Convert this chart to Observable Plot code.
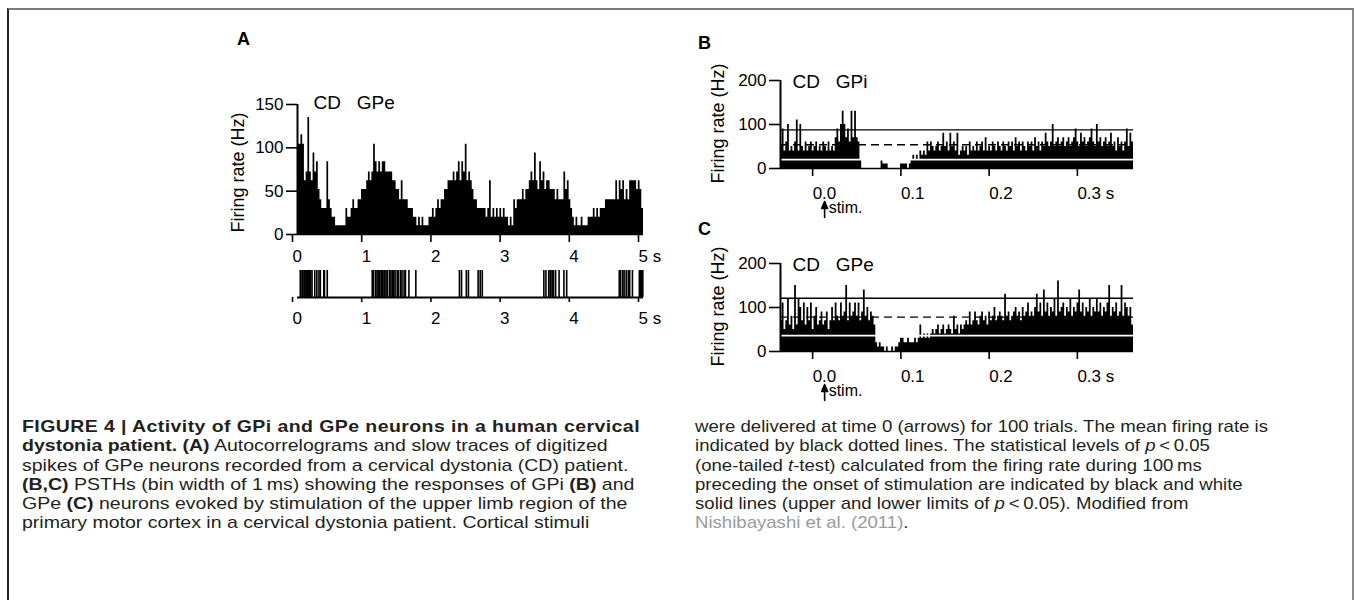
<!DOCTYPE html>
<html><head><meta charset="utf-8">
<script src="https://cdn.jsdelivr.net/npm/d3@7"></script>
<script src="https://cdn.jsdelivr.net/npm/@observablehq/plot@0.6"></script>
<style>
body{margin:0;background:#fff;}
#fig{position:relative;width:1354px;height:600px;overflow:hidden;background:#fff;font-family:"Liberation Sans",Arial,sans-serif;color:#000;}
#frame{position:absolute;left:7px;top:8px;width:1343px;height:700px;border-top:2px solid #7a7a7a;border-left:2px solid #222;border-right:2px solid #8a8a8a;}
.lbl{position:absolute;font-weight:bold;font-size:18px;line-height:18px;}
.cap{position:absolute;font-family:"Liberation Sans",Arial,sans-serif;font-size:17px;line-height:19.3px;color:#231f20;white-space:nowrap;transform-origin:0 0;}
.cap b{font-weight:bold;}
.link{color:#9a9a9a;}
</style></head>
<body><div id="fig"><div id="frame"></div>
<div class="lbl" style="left:237px;top:30px;">A</div>
<div class="lbl" style="left:698px;top:34px;">B</div>
<div class="lbl" style="left:698px;top:220px;">C</div>
<div class="cap" id="capL" style="left:22px;top:417px;">
<span class="ln"><b>FIGURE 4 | Activity of GPi and GPe neurons in a human cervical</b></span><br>
<span class="ln"><b>dystonia patient. (A)</b> Autocorrelograms and slow traces of digitized</span><br>
<span class="ln">spikes of GPe neurons recorded from a cervical dystonia (CD) patient.</span><br>
<span class="ln"><b>(B,C)</b> PSTHs (bin width of 1&#8201;ms) showing the responses of GPi <b>(B)</b> and</span><br>
<span class="ln">GPe <b>(C)</b> neurons evoked by stimulation of the upper limb region of the</span><br>
<span class="ln">primary motor cortex in a cervical dystonia patient. Cortical stimuli</span>
</div>
<div class="cap" id="capR" style="left:695px;top:417px;">
<span class="ln">were delivered at time 0 (arrows) for 100 trials. The mean firing rate is</span><br>
<span class="ln">indicated by black dotted lines. The statistical levels of <i>p</i>&#8201;&lt;&#8201;0.05</span><br>
<span class="ln">(one-tailed <i>t</i>-test) calculated from the firing rate during 100&#8201;ms</span><br>
<span class="ln">preceding the onset of stimulation are indicated by black and white</span><br>
<span class="ln">solid lines (upper and lower limits of <i>p</i>&#8201;&lt;&#8201;0.05). Modified from</span><br>
<span class="ln"><span class="link">Nishibayashi et al. (2011)</span>.</span>
</div>
</div>
<script>
// ---------- DATA ----------
// Panel A: firing rate histogram (Hz), bins of 0.025 s from 0 to 5 s
const binA = 0.025;
const rateA = [
104,104,115,104,62,72,135,72,62,94,
72,84,52,40,30,30,30,84,40,30,
20,20,10,10,10,10,10,10,30,20,
20,30,40,30,30,40,40,52,52,52,
62,72,62,72,104,84,72,84,72,84,
84,72,72,72,72,62,62,52,52,40,
62,40,40,40,30,30,30,20,20,10,
20,10,20,10,10,10,20,20,30,20,
30,40,30,40,40,52,52,62,62,62,
72,62,72,84,62,84,72,104,62,72,
62,52,40,40,30,30,30,30,30,20,
30,62,20,30,20,30,20,30,20,30,
20,20,10,20,10,40,30,40,40,40,
52,40,52,52,62,72,62,94,62,52,
84,62,72,52,62,62,52,52,52,40,
52,40,40,40,72,52,62,40,30,20,
10,20,10,10,20,10,10,10,20,20,
20,30,20,30,20,30,30,30,40,40,
40,40,40,40,62,40,62,52,62,40,
52,40,62,62,62,62,52,62,52,30
];
// Panel A: digitized spike times (s)
const spikesA = [
0.04,0.05,0.07,0.08,0.10,0.11,0.13,0.14,0.16,0.17,0.19,0.21,0.25,0.28,0.31,0.33,0.38,0.39,0.43,
1.08,1.10,1.13,1.15,1.17,1.19,1.21,1.23,1.25,1.26,1.28,1.30,1.33,1.35,1.37,1.39,1.41,1.44,1.46,1.49,1.51,1.54,1.56,1.61,1.71,
2.34,2.37,2.44,2.47,2.61,2.64,2.67,
3.56,3.59,3.63,3.65,3.66,3.68,3.70,3.73,3.78,3.85,3.89,
4.65,4.67,4.70,4.72,4.75,4.78,4.80,4.84,4.94,4.96,4.97,4.99
];
const ticksAx = [0,1,2,3,4,5];
const ticksAy = [0,50,100,150];

// Panels B, C: PSTH firing rate (Hz), bins of 0.002 s from -0.05 to 0.35 s
const binBC = 0.002;
const startBC = -0.05;
const rateB = [
50,90,40,60,100,40,50,40,60,110,
40,100,50,40,60,40,50,60,40,50,
60,40,50,40,60,50,40,60,40,50,
40,70,90,60,100,130,100,70,90,60,
130,70,130,70,60,20,0,0,0,0,
0,0,0,0,0,0,0,20,10,10,
10,0,0,0,0,0,0,0,10,10,
10,10,0,10,20,30,20,30,20,40,
30,40,30,60,40,60,50,40,50,60,
40,50,80,50,60,40,80,50,60,40,
80,30,40,50,40,50,30,60,40,50,
40,60,40,50,60,40,70,40,50,40,
60,50,40,60,50,40,60,50,40,60,
50,60,40,70,50,60,40,60,50,40,
60,50,60,40,70,50,60,40,60,50,
80,60,50,60,100,50,60,70,50,60,
70,50,60,70,50,60,70,90,60,50,
80,60,70,50,60,70,90,60,50,100,
60,70,50,60,70,50,60,80,50,60,
40,70,50,60,40,60,90,50,80,60
];
const rateC = [
70,110,50,70,120,60,80,50,150,60,
120,100,70,110,60,100,70,110,50,80,
100,60,70,90,60,70,90,50,70,100,
70,110,80,70,110,80,90,150,70,110,
80,90,110,80,110,70,90,140,80,100,
70,90,80,60,20,10,20,10,10,0,
10,0,0,10,0,10,10,20,30,30,
20,20,30,20,20,20,30,20,30,60,
30,40,30,40,30,40,50,40,50,60,
40,50,60,40,50,60,50,40,80,50,
60,40,60,50,60,70,60,90,60,70,
90,70,60,80,90,70,80,60,90,70,
80,100,70,80,90,80,70,130,80,90,
70,80,90,100,80,90,70,100,80,90,
110,80,90,80,100,130,90,110,80,140,
90,110,80,100,90,120,80,160,90,100,
110,80,100,90,120,80,100,90,110,140,
90,110,80,100,90,120,80,100,90,120,
90,110,80,100,90,110,150,80,100,90,
110,80,90,150,80,110,100,80,100,60
];
const levelsB = {upper: 88, mean: 54, lower: 20};
const levelsC = {upper: 121, mean: 78, lower: 36};
const domainBCx = [-0.05, 0.35];
const ticksBCx = [0, 0.1, 0.2, 0.3];
const ticksBCy = [0, 100, 200];
const stimTimes = [0];

// ---------- DRAW ----------
const FONT = '"Liberation Sans", Arial, sans-serif';
const fig = document.getElementById("fig");
function place(svg, left, top) {
  svg.style.position = "absolute";
  svg.style.left = left + "px";
  svg.style.top = top + "px";
  svg.style.overflow = "visible";
  fig.appendChild(svg);
}
const baseStyle = {fontFamily: FONT, fontSize: "17px", color: "#000", background: "none", overflow: "visible"};
// step outline rows: each bin start, plus the closing edge of the last bin
function stepRows(rates, start, bin) {
  const rows = rates.map((v, i) => ({t: start + i * bin, v}));
  rows.push({t: start + rates.length * bin, v: rates[rates.length - 1]});
  return rows;
}

// Panel A histogram
place(Plot.plot({
  width: 473, height: 179, marginLeft: 97, marginRight: 30, marginTop: 19, marginBottom: 30,
  style: baseStyle,
  x: {domain: [0, 5]}, y: {domain: [0, 150]},
  marks: [
    Plot.areaY(stepRows(rateA, 0, binA), {x: "t", y: "v", curve: "step-after", fill: "#000"}),
    Plot.ruleY([0], {strokeWidth: 1.6}),
    Plot.ruleX([0], {strokeWidth: 2}),
    Plot.axisY({ticks: ticksAy, tickSize: 11, tickPadding: 3, strokeWidth: 1.6, label: null}),
    Plot.axisX({ticks: ticksAx, tickSize: 8, tickPadding: 7, strokeWidth: 1.6, label: null,
      tickFormat: d => d === 5 ? "5 s" : String(d), textAnchor: "start", dx: -5}),
    Plot.text(["Firing rate (Hz)"], {frameAnchor: "left", textAnchor: "middle", lineAnchor: "middle", rotate: -90, dx: -59, dy: 3, fontSize: 18}),
    Plot.text(["CD\u00a0\u00a0 GPe"], {frameAnchor: "top-left", textAnchor: "start", lineAnchor: "middle", dx: 16, dy: -2, fontSize: 19})
  ]
}), 200, 85);

// Panel A spike raster
place(Plot.plot({
  width: 473, height: 67, marginLeft: 97, marginRight: 30, marginTop: 10, marginBottom: 30,
  style: baseStyle,
  x: {domain: [0, 5]}, y: {domain: [0, 1], axis: null},
  marks: [
    Plot.tickX(spikesA, {x: d => d, strokeWidth: 1.6}),
    Plot.ruleY([0], {strokeWidth: 1.8}),
    Plot.axisX({ticks: ticksAx, tickSize: 5, tickPadding: 9, strokeWidth: 1.6, label: null,
      tickFormat: d => d === 5 ? "5 s" : String(d), textAnchor: "start", dx: -5})
  ]
}), 200, 260);

// Panels B and C
const arrowShape = {
  draw(context, l) {
    context.moveTo(0, 0);
    context.lineTo(0, -l + 5);
    context.moveTo(-3, -l + 7);
    context.lineTo(0, -l);
    context.lineTo(3, -l + 7);
    context.closePath();
  }
};
function psth(rates, levels, label, left, top) {
  return place(Plot.plot({
    width: 483, height: 168, marginLeft: 90, marginRight: 40, marginTop: 20, marginBottom: 60,
    style: baseStyle,
    x: {domain: domainBCx}, y: {domain: [0, 200]},
    marks: [
      Plot.areaY(stepRows(rates, startBC, binBC), {x: "t", y: "v", curve: "step-after", fill: "#000"}),
      Plot.ruleY([levels.lower], {stroke: "#fff", strokeWidth: 1.8}),
      Plot.ruleY([levels.mean], {stroke: "#000", strokeWidth: 1.3, strokeDasharray: "8,5"}),
      Plot.ruleY([levels.upper], {stroke: "#000", strokeWidth: 1.3}),
      Plot.ruleY([0], {strokeWidth: 1.6}),
      Plot.ruleX([domainBCx[0]], {strokeWidth: 2}),
      Plot.axisY({ticks: ticksBCy, tickSize: 11, tickPadding: 3, strokeWidth: 1.6, label: null}),
      Plot.axisX({ticks: ticksBCx, tickSize: 8, tickPadding: 10, strokeWidth: 1.6, label: null,
        tickFormat: d => d === 0.3 ? "0.3 s" : d.toFixed(1), textAnchor: "start", dx: -12}),
      Plot.text(["Firing rate (Hz)"], {frameAnchor: "left", textAnchor: "middle", lineAnchor: "middle", rotate: -90, dx: -62, dy: -1, fontSize: 18}),
      Plot.text([label], {frameAnchor: "top-left", textAnchor: "start", lineAnchor: "middle", dx: 12, dy: 1, fontSize: 19}),
      Plot.vector(stimTimes, {x: d => d, frameAnchor: "bottom", length: 16, rotate: 0, anchor: "start",
        shape: arrowShape, dy: 49, fill: "#000", stroke: "#000", strokeWidth: 1.6}),
      Plot.text(stimTimes, {x: d => d, text: () => "stim.", frameAnchor: "bottom", textAnchor: "start", lineAnchor: "middle", dx: 4, dy: 39, fontSize: 16})
    ]
  }), left, top);
}
psth(rateB, levelsB, "CD\u00a0\u00a0 GPi", 690, 60);
psth(rateC, levelsC, "CD\u00a0\u00a0 GPe", 690, 243);

// fit caption: horizontal scale from the right column's first line (left column a little wider),
// and letter-spacing on the bold title so it reaches its reference length
(function fitCaption() {
  const capL = document.getElementById("capL");
  const capR = document.getElementById("capR");
  const wR = capR.querySelector(".ln").getBoundingClientRect().width;
  if (!(wR > 0)) return;
  const s = 573 / wR;
  const sL = s * 1.05;
  capR.style.transform = `scaleX(${s})`;
  capL.style.transform = `scaleX(${sL})`;
  const title = capL.querySelector(".ln b");
  const wT = title.getBoundingClientRect().width / sL;
  const n = title.textContent.length;
  const ls = (618 / sL - wT) / n;
  title.style.letterSpacing = ls.toFixed(3) + "px";
})();
</script>
</body></html>
